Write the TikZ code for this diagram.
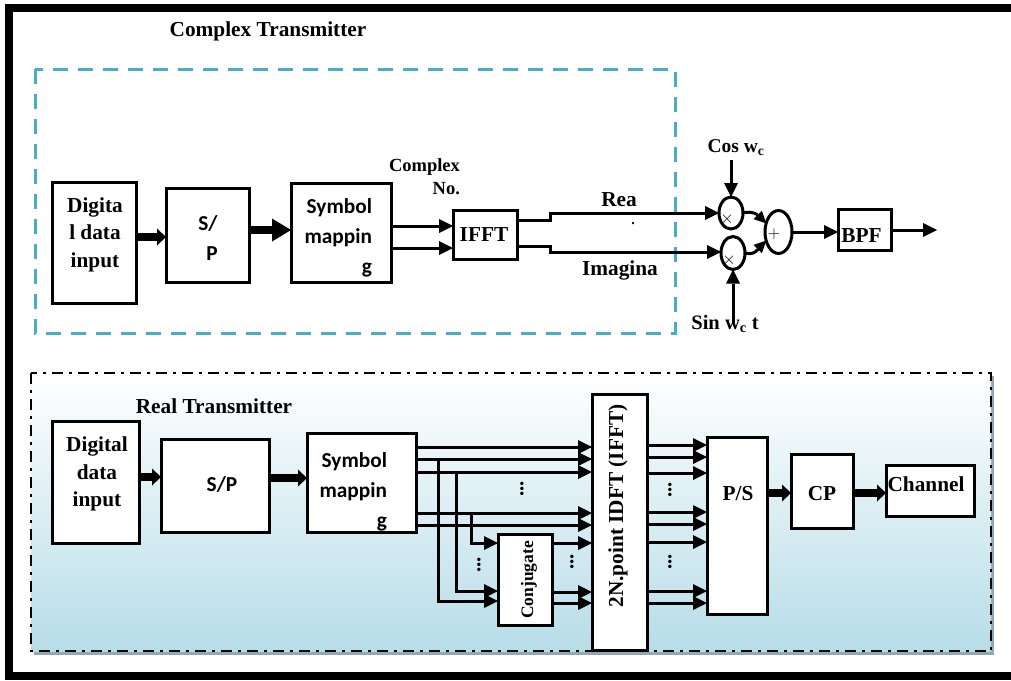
\documentclass[tikz,border=0pt]{standalone}
\usepackage{fontspec}
\setmainfont{Liberation Serif}
\newfontfamily\calibrifont{Carlito}
\usetikzlibrary{arrows.meta,shapes.geometric}
\definecolor{txblue}{HTML}{4BACC6}
\definecolor{rxshade}{HTML}{B7DDE8}
\definecolor{rxshadow}{HTML}{8FAAB4}

\begin{document}
\begin{tikzpicture}[x=1pt,y=-1pt,
  blk/.style={draw, line width=3pt, fill=white, inner sep=0pt, outer sep=0pt},
  mix/.style={draw, ellipse, line width=3pt, fill=white, inner sep=0pt, outer sep=0pt},
  tnr/.style={font=\bfseries\fontsize{21.3}{27.5}\selectfont, inner sep=0pt},
  tnrs/.style={font=\bfseries\fontsize{18.5}{23}\selectfont, inner sep=0pt},
  cal/.style={font=\calibrifont\bfseries\fontsize{21.3}{30}\selectfont, inner sep=0pt},
  sgn/.style={font=\fontsize{17}{17}\selectfont, inner sep=0pt},
  vdot/.style={font=\bfseries\fontsize{21}{21}\selectfont, inner sep=0pt, rotate=90},
  arr/.style={line width=3pt, -{Triangle[length=14pt,width=14pt,line width=0pt]}},
  fatarr/.style={line width=8pt, -{Triangle[length=9pt,width=17pt,line width=0pt]}},
  fatbig/.style={line width=8pt, -{Triangle[length=19pt,width=23pt,line width=0pt]}}]
\useasboundingbox (0,0) rectangle (1011,680);
\clip (0,0) rectangle (1011,680);
\draw[line width=8pt] (9,8) rectangle (1040,676);

\node[tnr, anchor=base] (ctitle) at (268,36) {Complex Transmitter};
\draw[txblue, line width=3pt, dash pattern=on 15pt off 10pt] (35,69) rectangle (675,333);

\node[blk, minimum width=84pt, minimum height=121pt] (din1) at (94,242.5) {};
\node[tnr, align=center] (din1t) at (95,234.5) {Digita\\l data\\input};
\node[blk, minimum width=83pt, minimum height=94pt] (sp1) at (207.5,235) {};
\node[cal, align=right] (sp1t) at (208,238.5) {S/\\P};
\node[blk, minimum width=100pt, minimum height=99pt] (sym1) at (341,232.5) {};
\node[cal, align=right] (sym1t) at (338.3,237.6) {Symbol\\mappin\\g};
\node[blk, minimum width=64pt, minimum height=49pt] (ifft) at (485,234.5) {};
\node[tnr, anchor=base] (ifftt) at (484,241) {IFFT};
\node[tnrs, align=right] (cplx) at (424.5,177) {Complex\\No.};

\draw[fatarr] (din1.east |- 0,237) -- (sp1.west |- 0,237);
\draw[fatbig] (sp1.east |- 0,230) -- (sym1.west |- 0,230);
\draw[arr] (sym1.east |- 0,226) -- (ifft.west |- 0,226);
\draw[arr] (sym1.east |- 0,248) -- (ifft.west |- 0,248);

\node[mix, minimum width=24pt, minimum height=32pt] (mul1) at (731,213) {};
\node[mix, minimum width=24pt, minimum height=33pt] (mul2) at (733,253) {};
\node[mix, minimum width=27pt, minimum height=43pt] (add) at (778.5,232) {};
\node[sgn] (x1) at (727,219) {$\times$};
\node[sgn] (x2) at (729,260) {$\times$};
\node[sgn] (plus) at (774,234) {$+$};

\draw[arr] (ifft.east |- 0,220) -- ++(33,0) -- ++(0,-7) -- (mul1.west);
\draw[arr] (ifft.east |- 0,246) -- ++(33,0) -- ++(0,6) -- (mul2.west |- 0,252);
\node[tnr, anchor=base] (real) at (619,206) {Rea};
\node[font=\bfseries\fontsize{14}{14}\selectfont, inner sep=0pt, anchor=base] (realdot) at (633,224) {.};
\node[tnr, anchor=base] (imag) at (620,275) {Imagina};

\node[font=\bfseries\fontsize{19.5}{19.5}\selectfont, inner sep=0pt, anchor=base] (cos) at (736,152) {Cos w\textsubscript{c}};
\node[font=\bfseries\fontsize{20.5}{20.5}\selectfont, inner sep=0pt, anchor=base] (sin) at (725,329) {Sin w\textsubscript{c} t};
\draw[arr, shorten <=5pt] (cos.south -| mul1.north) -- (mul1.north);
\draw[arr, shorten <=-8pt] (sin.north -| mul2.south) -- (mul2.south);

\draw[line width=3pt, -{Triangle[length=12pt,width=12pt,line width=0pt]}] (mul1.east) .. controls +(10,-3) and +(-7,-7) .. (add.145);
\draw[line width=3pt, -{Triangle[length=12pt,width=12pt,line width=0pt]}] (mul2.east) .. controls +(10,3) and +(-7,7) .. (add.215);

\node[blk, minimum width=53pt, minimum height=41pt] (bpf) at (864.5,230) {};
\node[tnr, anchor=base] (bpft) at (861.5,242) {BPF};
\draw[arr] (add.east) -- (add.east -| bpf.west);
\coordinate (bpfout) at (937,230);
\draw[arr] (bpf.east |- bpfout) -- (bpfout);

\fill[rxshadow] (34,376) rectangle (994,655);
\shade[top color=white, bottom color=rxshade] (31,373) rectangle (991,651);
\draw[line width=2.5pt, dash pattern=on 11pt off 6pt on 3pt off 6pt] (31,373) rectangle (991,651);
\node[tnr, anchor=base] (rtitle) at (214,413) {Real Transmitter};

\node[blk, minimum width=87pt, minimum height=122pt] (din2) at (95.5,482) {};
\node[tnr, align=center] (din2t) at (97,474) {Digital\\data\\input};
\node[blk, minimum width=108pt, minimum height=93pt] (sp2) at (215,485.5) {};
\node[cal, anchor=base] (sp2t) at (222,491) {S/P};
\node[blk, minimum width=109pt, minimum height=99pt] (sym2) at (361.5,482.5) {};
\node[cal, align=right] (sym2t) at (353.3,491.6) {Symbol\\mappin\\g};
\node[blk, minimum width=55pt, minimum height=256pt] (idft) at (619.5,522) {};
\node[tnr, rotate=90] (idftt) at (618,506) {2N.point IDFT (IFFT)};
\node[blk, minimum width=54pt, minimum height=91pt] (conj) at (525,579.5) {};
\node[font=\bfseries\fontsize{17.5}{17.5}\selectfont, inner sep=0pt, rotate=90] (conjt) at (529,580) {Conjugate};
\node[blk, minimum width=60pt, minimum height=177pt] (ps) at (737,525.5) {};
\node[tnr, anchor=base] (pst) at (738,500) {P/S};
\node[blk, minimum width=62pt, minimum height=74pt] (cp) at (822,491) {};
\node[tnr, anchor=base] (cpt) at (822,500) {CP};
\node[blk, minimum width=88pt, minimum height=51pt] (chan) at (930,490.5) {};
\node[tnr, anchor=base] (chant) at (926,491) {Channel};

\draw[fatarr] (din2.east |- 0,477) -- (sp2.west |- 0,477);
\draw[fatarr] (sp2.east |- 0,478) -- (sym2.west |- 0,478);
\foreach \yy in {447,459,472,513,525}
  \draw[arr] (sym2.east |- 0,\yy) -- (idft.west |- 0,\yy);
\coordinate (br1) at (438,459);
\coordinate (br2) at (456,472);
\coordinate (br3) at (471,513);
\draw[arr] (br1) |- (conj.west |- 0,601);
\draw[arr] (br2) |- (conj.west |- 0,591);
\draw[arr] (br3) |- (conj.west |- 0,543);
\foreach \yy in {543,592,603}
  \draw[arr] (conj.east |- 0,\yy) -- (idft.west |- 0,\yy);
\foreach \yy in {445,457,473,512,524,542,591,603}
  \draw[arr] (idft.east |- 0,\yy) -- (ps.west |- 0,\yy);
\draw[fatarr] (ps.east |- 0,493) -- (cp.west |- 0,493);
\draw[fatarr] (cp.east |- 0,493) -- (chan.west |- 0,493);

\node[vdot] (dots1) at (522,489) {...};
\node[vdot] (dots2) at (479,565) {...};
\node[vdot] (dots3) at (572,562) {...};
\node[vdot] (dots4) at (670,490) {...};
\node[vdot] (dots5) at (670,562) {...};
\end{tikzpicture}
\end{document}
